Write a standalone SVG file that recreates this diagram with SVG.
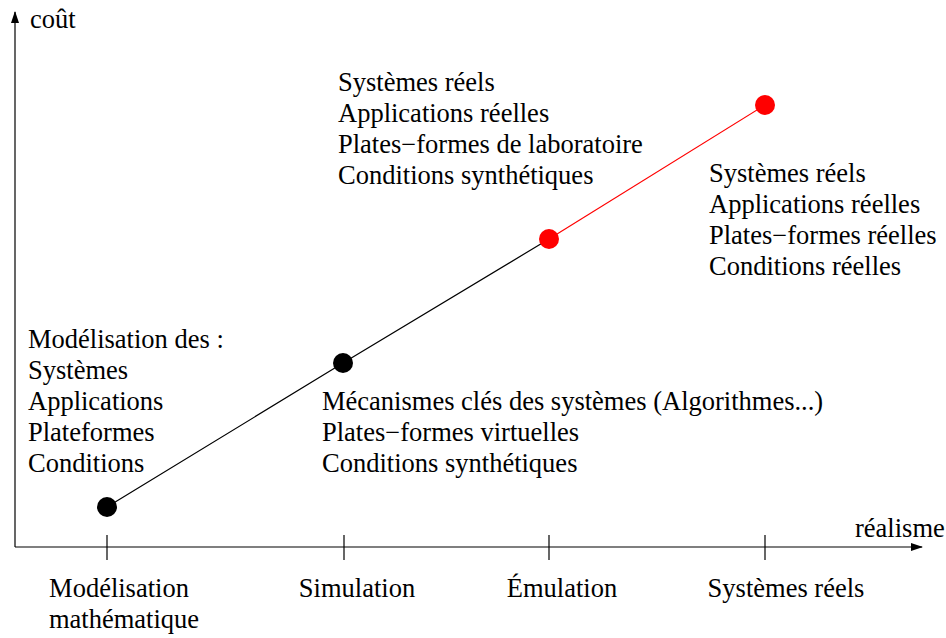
<svg xmlns="http://www.w3.org/2000/svg" width="946" height="638" viewBox="0 0 946 638">
<style>
text{font-family:"Liberation Serif","Times New Roman",serif;font-size:26.5px;fill:#000}
.ax{stroke:#000;stroke-width:1.2;fill:none}
.mid{text-anchor:middle}
</style>
<defs>
<marker id="ar" markerWidth="12" markerHeight="8" refX="11" refY="4" orient="auto" markerUnits="userSpaceOnUse">
<path d="M0,0 L12,4 L0,8 Z" fill="#000"/>
</marker>
</defs>
<rect width="946" height="638" fill="#fff"/>
<g id="axes">
<line class="ax" x1="15" y1="547" x2="15" y2="12" marker-end="url(#ar)"/>
<line class="ax" x1="15" y1="547" x2="922" y2="547" marker-end="url(#ar)"/>
<line class="ax" x1="107" y1="535" x2="107" y2="560"/>
<line class="ax" x1="344" y1="535" x2="344" y2="560"/>
<line class="ax" x1="549" y1="535" x2="549" y2="560"/>
<line class="ax" x1="765" y1="535" x2="765" y2="560"/>
<text x="30" y="28">coût</text>
<text x="855" y="537">réalisme</text>
</g>
<g id="connectors">
<polyline points="107,507 343,363 549,239" fill="none" stroke="#000" stroke-width="1.2"/>
<line x1="549" y1="239" x2="765" y2="105" stroke="#f00" stroke-width="1.2"/>
</g>
<g id="n-modelisation">
<circle cx="107" cy="507" r="10" fill="#000"/>
<text x="28" y="348">Modélisation des :</text>
<text x="28" y="379">Systèmes</text>
<text x="28" y="410">Applications</text>
<text x="28" y="441">Plateformes</text>
<text x="28" y="472">Conditions</text>
<text class="mid" x="119" y="597">Modélisation</text>
<text class="mid" x="124" y="628">mathématique</text>
</g>
<g id="n-simulation">
<circle cx="343" cy="363" r="10" fill="#000"/>
<text x="322" y="410">Mécanismes clés des systèmes (Algorithmes...)</text>
<text x="322" y="441">Plates−formes virtuelles</text>
<text x="322" y="472">Conditions synthétiques</text>
<text class="mid" x="357" y="597">Simulation</text>
</g>
<g id="n-emulation">
<circle cx="549" cy="239" r="10" fill="#f00"/>
<text x="338" y="91">Systèmes réels</text>
<text x="338" y="122">Applications réelles</text>
<text x="338" y="153">Plates−formes de laboratoire</text>
<text x="338" y="184">Conditions synthétiques</text>
<text class="mid" x="562" y="597">Émulation</text>
</g>
<g id="n-reels">
<circle cx="765" cy="105" r="10" fill="#f00"/>
<text x="709" y="182">Systèmes réels</text>
<text x="709" y="213">Applications réelles</text>
<text x="709" y="244">Plates−formes réelles</text>
<text x="709" y="275">Conditions réelles</text>
<text class="mid" x="786" y="597">Systèmes réels</text>
</g>
</svg>
